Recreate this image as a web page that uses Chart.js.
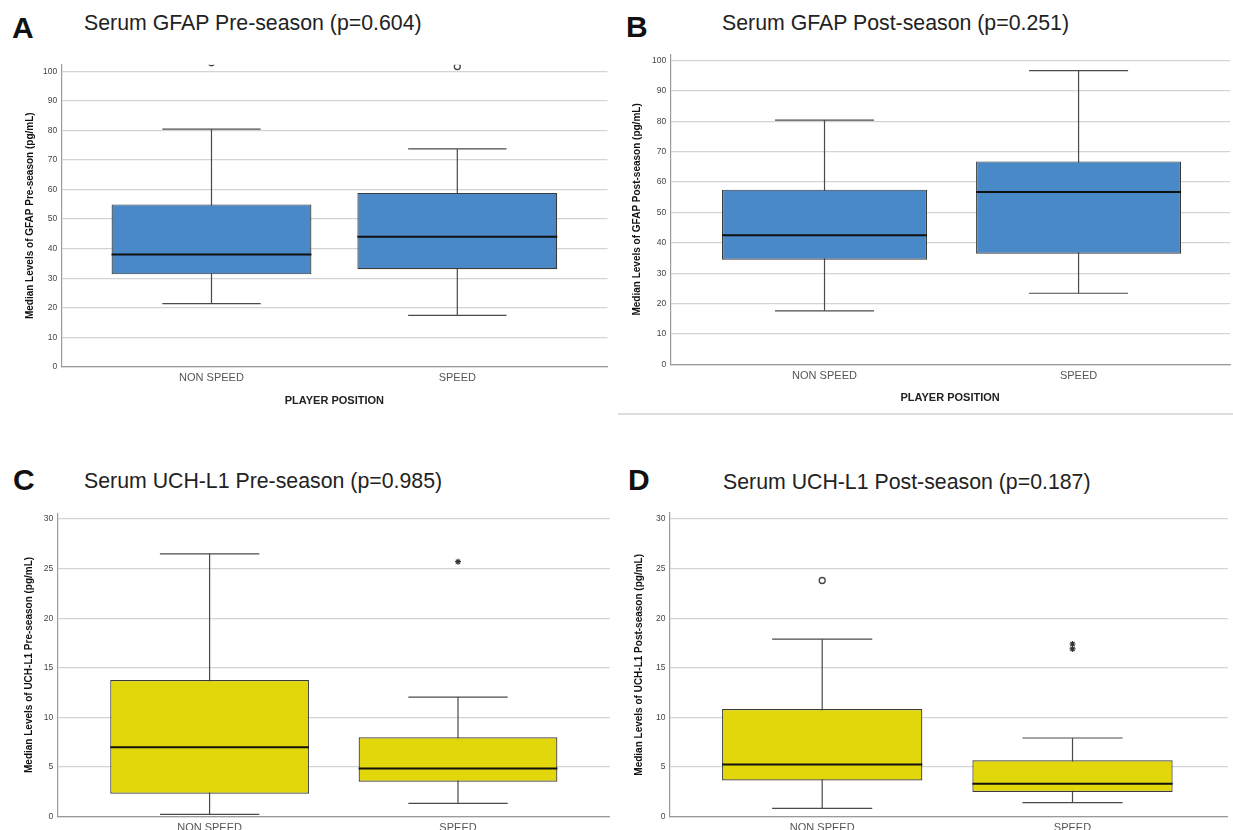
<!DOCTYPE html>
<html><head><meta charset="utf-8">
<script src="https://cdn.jsdelivr.net/npm/chart.js@4.4.1/dist/chart.umd.min.js"></script>
<style>
html,body{margin:0;padding:0;background:#fff;overflow:hidden;width:1233px;height:830px;position:relative;}
canvas{position:absolute;}
.lbl{position:absolute;font-family:"Liberation Sans",Arial,sans-serif;font-weight:bold;font-size:30px;line-height:30px;color:#111;white-space:nowrap;}
.ttl{position:absolute;font-family:"Liberation Sans",Arial,sans-serif;font-size:21.3px;line-height:21.3px;color:#222;white-space:nowrap;}
.divider{position:absolute;left:618px;top:413px;width:615px;height:2px;background:#dedede;}
</style></head><body>
<div class="lbl" style="left:12px;top:13px;">A</div>
<div class="ttl" style="left:84px;top:12.7px;">Serum GFAP Pre-season (p=0.604)</div>
<div class="lbl" style="left:626px;top:12px;">B</div>
<div class="ttl" style="left:722px;top:12.7px;">Serum GFAP Post-season (p=0.251)</div>
<div class="lbl" style="left:13px;top:465px;">C</div>
<div class="ttl" style="left:84px;top:471.3px;">Serum UCH-L1 Pre-season (p=0.985)</div>
<div class="lbl" style="left:628px;top:465px;">D</div>
<div class="ttl" style="left:723px;top:472px;">Serum UCH-L1 Post-season (p=0.187)</div>
<div class="divider"></div>
<canvas id="cA" width="615" height="415" style="left:0;top:0;"></canvas>
<canvas id="cB" width="618" height="415" style="left:615px;top:0;"></canvas>
<canvas id="cC" width="615" height="460" style="left:0;top:420px;"></canvas>
<canvas id="cD" width="618" height="460" style="left:615px;top:420px;"></canvas>
<script>
// ---- data ----
const categories = ['NON SPEED', 'SPEED'];
const gfapTicks = [0, 10, 20, 30, 40, 50, 60, 70, 80, 90, 100];
const uchTicks = [0, 5, 10, 15, 20, 25, 30];

// A: Serum GFAP pre-season
const gfapPreLow = [21.4, 17.4];
const gfapPreQ1 = [31.3, 33.0];
const gfapPreMedian = [38.0, 44.0];
const gfapPreQ3 = [55.0, 58.9];
const gfapPreHigh = [80.5, 73.8];
const gfapPreOutlierCat = [0, 1];
const gfapPreOutlierVal = [103.0, 101.7];
const gfapPreExtremeCat = [];
const gfapPreExtremeVal = [];

// B: Serum GFAP post-season
const gfapPostLow = [17.6, 23.4];
const gfapPostQ1 = [34.4, 36.4];
const gfapPostMedian = [42.5, 56.7];
const gfapPostQ3 = [57.5, 66.8];
const gfapPostHigh = [80.4, 96.7];
const gfapPostOutlierCat = [];
const gfapPostOutlierVal = [];
const gfapPostExtremeCat = [];
const gfapPostExtremeVal = [];

// C: Serum UCH-L1 pre-season
const uchPreLow = [0.24, 1.34];
const uchPreQ1 = [2.32, 3.53];
const uchPreMedian = [6.99, 4.87];
const uchPreQ3 = [13.77, 8.0];
const uchPreHigh = [26.5, 12.06];
const uchPreOutlierCat = [];
const uchPreOutlierVal = [];
const uchPreExtremeCat = [1];
const uchPreExtremeVal = [25.7];

// D: Serum UCH-L1 post-season
const uchPostLow = [0.84, 1.41];
const uchPostQ1 = [3.66, 2.49];
const uchPostMedian = [5.27, 3.33];
const uchPostQ3 = [10.85, 5.68];
const uchPostHigh = [17.9, 7.93];
const uchPostOutlierCat = [0];
const uchPostOutlierVal = [23.8];
const uchPostExtremeCat = [1, 1];
const uchPostExtremeVal = [17.4, 16.9];

// ---- styling / drawing ----
const FONT = '"Liberation Sans", Arial, sans-serif';
const BLUE = '#4a89c8';
const YELLOW = '#e2d70b';

function boxDatasets(s, color, boxW, capW) {
  const ds = [];
  const wl = {type: 'line', borderColor: '#4a4a4a', borderWidth: 1.2, pointRadius: 0, fill: false, order: 5};
  categories.forEach((c, i) => {
    ds.push(Object.assign({}, wl, {data: [{x: i, y: s.low[i]}, {x: i, y: s.high[i]}]}));
    ds.push(Object.assign({}, wl, {data: [{x: i - capW / 2, y: s.high[i]}, {x: i + capW / 2, y: s.high[i]}]}));
    ds.push(Object.assign({}, wl, {data: [{x: i - capW / 2, y: s.low[i]}, {x: i + capW / 2, y: s.low[i]}]}));
    ds.push({type: 'line', borderColor: '#111', borderWidth: 2, pointRadius: 0, fill: false, order: 1,
      data: [{x: i - boxW / 2, y: s.median[i]}, {x: i + boxW / 2, y: s.median[i]}]});
  });
  ds.push({type: 'bar', data: categories.map((c, i) => ({x: i, y: [s.q1[i], s.q3[i]]})),
    backgroundColor: color, borderColor: '#3a3a3a', borderWidth: 1.2, borderSkipped: false,
    barPercentage: boxW, categoryPercentage: 1, order: 3});
  ds.push({type: 'scatter', data: s.outCat.map((c, k) => ({x: c, y: s.outVal[k]})),
    pointStyle: 'circle', pointRadius: 3, backgroundColor: '#fff', borderColor: '#444', borderWidth: 1.3, order: 0});
  ds.push({type: 'scatter', data: s.extCat.map((c, k) => ({x: c, y: s.extVal[k]})),
    pointStyle: 'star', pointRadius: 3, backgroundColor: '#333', borderColor: '#333', borderWidth: 1.2, order: 0});
  return ds;
}

function makeChart(id, s, color, L) {
  new Chart(document.getElementById(id), {
    type: 'bar',
    data: {datasets: boxDatasets(s, color, L.boxW, L.capW)},
    options: {
      responsive: false, animation: false, devicePixelRatio: 1,
      layout: {padding: {top: L.padTop, right: L.padRight, left: 0, bottom: 0}},
      plugins: {legend: {display: false}, tooltip: {enabled: false}, title: {display: false}},
      scales: {
        x: {
          type: 'linear', min: L.xMin, max: L.xMax, offset: false,
          afterBuildTicks: sc => { sc.ticks = categories.map((c, i) => ({value: i})); },
          afterFit: sc => { sc.height = L.xHeight; },
          grid: {display: false, drawTicks: false},
          border: {color: '#9a9a9a', width: 1.2},
          ticks: {callback: v => categories[v], font: {family: FONT, size: 11}, color: '#555',
            padding: 5, maxRotation: 0, autoSkip: false},
          title: {display: true, text: 'PLAYER POSITION', font: {family: FONT, size: 11, weight: 'bold'},
            color: '#222', padding: {top: 0, bottom: L.xTitlePad}}
        },
        y: {
          type: 'linear', min: 0, max: L.yMax,
          afterBuildTicks: sc => { sc.ticks = L.yTicks.map(v => ({value: v})); },
          afterFit: sc => { sc.width = L.yWidth; },
          grid: {color: '#d4d4d4', lineWidth: 1.3, drawTicks: false},
          border: {color: '#9a9a9a', width: 1.2},
          ticks: {font: {family: FONT, size: 8.5}, color: '#444', padding: 4},
          title: {display: true, text: L.yTitle, font: {family: FONT, size: 10, weight: 'bold'},
            color: '#111', padding: {top: L.yTitlePad, bottom: 0}}
        }
      }
    }
  });
}

makeChart('cA', {low: gfapPreLow, q1: gfapPreQ1, median: gfapPreMedian, q3: gfapPreQ3, high: gfapPreHigh,
  outCat: gfapPreOutlierCat, outVal: gfapPreOutlierVal, extCat: gfapPreExtremeCat, extVal: gfapPreExtremeVal}, BLUE,
  {padTop: 64.8, padRight: 7.5, yWidth: 61.3, xHeight: 48.3, xTitlePad: 7.4, yTitlePad: 24,
   xMin: -0.611, xMax: 1.611, yMax: 102.3, yTicks: gfapTicks, boxW: 0.813, capW: 0.40,
   yTitle: 'Median Levels of GFAP Pre-season (pg/mL)'});

makeChart('cB', {low: gfapPostLow, q1: gfapPostQ1, median: gfapPostMedian, q3: gfapPostQ3, high: gfapPostHigh,
  outCat: gfapPostOutlierCat, outVal: gfapPostOutlierVal, extCat: gfapPostExtremeCat, extVal: gfapPostExtremeVal}, BLUE,
  {padTop: 54.5, padRight: 3, yWidth: 55.3, xHeight: 50.7, xTitlePad: 10.1, yTitlePad: 16.5,
   xMin: -0.607, xMax: 1.596, yMax: 102, yTicks: gfapTicks, boxW: 0.807, capW: 0.39,
   yTitle: 'Median Levels of GFAP Post-season (pg/mL)'});

makeChart('cC', {low: uchPreLow, q1: uchPreQ1, median: uchPreMedian, q3: uchPreQ3, high: uchPreHigh,
  outCat: uchPreOutlierCat, outVal: uchPreOutlierVal, extCat: uchPreExtremeCat, extVal: uchPreExtremeVal}, YELLOW,
  {padTop: 93.1, padRight: 3, yWidth: 57.3, xHeight: 63.3, xTitlePad: 22.7, yTitlePad: 23.6,
   xMin: -0.613, xMax: 1.611, yMax: 30.6, yTicks: uchTicks, boxW: 0.80, capW: 0.40,
   yTitle: 'Median Levels of UCH-L1 Pre-season (pg/mL)'});

makeChart('cD', {low: uchPostLow, q1: uchPostQ1, median: uchPostMedian, q3: uchPostQ3, high: uchPostHigh,
  outCat: uchPostOutlierCat, outVal: uchPostOutlierVal, extCat: uchPostExtremeCat, extVal: uchPostExtremeVal}, YELLOW,
  {padTop: 93, padRight: 3, yWidth: 54.5, xHeight: 63.3, xTitlePad: 22.7, yTitlePad: 18.5,
   xMin: -0.61, xMax: 1.62, yMax: 30.6, yTicks: uchTicks, boxW: 0.80, capW: 0.40,
   yTitle: 'Median Levels of UCH-L1 Post-season (pg/mL)'});
</script>
</body></html>
